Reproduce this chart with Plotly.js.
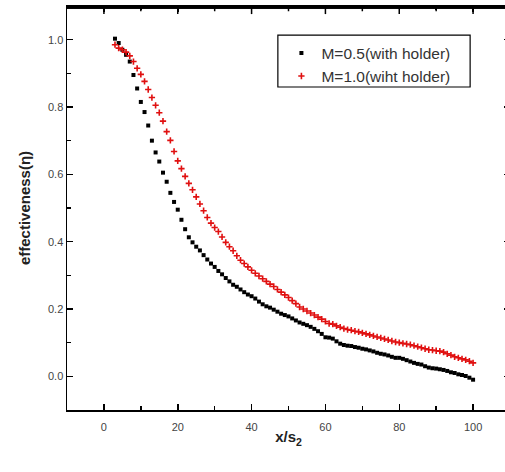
<!DOCTYPE html>
<html>
<head>
<meta charset="utf-8">
<script src="https://cdn.plot.ly/plotly-3.0.1.min.js"></script>
<style>
html,body{margin:0;padding:0;overflow:hidden;background:#fff;}
#chart{width:512px;height:472px;}
</style>
</head>
<body>
<div id="chart"></div>
<script>
var xPos = [3,4,5,6,7,8,9,10,11,12,13,14,15,16,17,18,19,20,21,22,23,24,25,26,27,28,29,30,
  31,32,33,34,35,36,37,38,39,40,41,42,43,44,45,46,47,48,49,50,51,52,53,54,55,56,57,58,59,60,
  61,62,63,64,65,66,67,68,69,70,71,72,73,74,75,76,77,78,79,80,81,82,83,84,85,86,87,88,89,90,
  91,92,93,94,95,96,97,98,99,100];

var effM05 = [1.003,0.990,0.970,0.955,0.935,0.895,0.855,0.815,0.785,0.745,0.700,0.665,0.638,0.605,
  0.578,0.545,0.518,0.495,0.465,0.437,0.413,0.398,0.385,0.374,0.360,0.347,0.335,0.325,
  0.313,0.303,0.292,0.282,0.272,0.266,0.258,0.250,0.243,0.238,0.231,0.222,0.214,0.208,
  0.204,0.198,0.192,0.186,0.182,0.178,0.172,0.166,0.160,0.156,0.152,0.147,0.141,0.134,
  0.126,0.116,0.115,0.112,0.104,0.097,0.093,0.091,0.090,0.087,0.085,0.082,0.080,0.077,
  0.074,0.070,0.067,0.065,0.062,0.058,0.055,0.055,0.052,0.048,0.044,0.040,0.037,0.035,
  0.030,0.026,0.024,0.023,0.021,0.019,0.016,0.012,0.010,0.006,0.004,0.001,-0.004,-0.010];

var effM10 = [0.985,0.975,0.970,0.963,0.952,0.935,0.915,0.897,0.876,0.852,0.828,0.805,0.783,0.758,
  0.727,0.701,0.668,0.640,0.617,0.594,0.573,0.554,0.533,0.512,0.492,0.472,0.455,0.442,
  0.430,0.414,0.398,0.385,0.373,0.358,0.345,0.335,0.325,0.315,0.306,0.298,0.290,0.282,
  0.274,0.267,0.258,0.250,0.242,0.234,0.225,0.216,0.206,0.200,0.194,0.188,0.182,0.176,
  0.170,0.163,0.157,0.155,0.150,0.146,0.142,0.139,0.137,0.134,0.132,0.129,0.126,0.123,
  0.120,0.117,0.114,0.111,0.108,0.105,0.102,0.100,0.098,0.096,0.094,0.091,0.088,0.085,
  0.082,0.079,0.078,0.076,0.075,0.072,0.067,0.063,0.058,0.055,0.052,0.049,0.045,0.040];

var seriesNames = ['M=0.5(with holder)', 'M=1.0(wiht holder)'];
var xTicks = [0,20,40,60,80,100];
var xMinor = [10,30,50,70,90];
var yTicks = [0,0.2,0.4,0.6,0.8,1.0];
var yMinor = [0.1,0.3,0.5,0.7,0.9];

var traces = [
  {x: xPos, y: effM05, name: seriesNames[0], type: 'scatter', mode: 'markers',
   marker: {symbol: 'square', size: 4, color: '#000000'}},
  {x: xPos, y: effM10, name: seriesNames[1], type: 'scatter', mode: 'markers',
   marker: {symbol: 'cross-thin', size: 4.5, color: '#e01010', line: {width: 1.6, color: '#e01010'}}}
];

var fam = 'Liberation Sans, Arial, sans-serif';
var tickFont = {family: fam, size: 11, color: '#444'};

var frameShapes = [
  {type: 'rect', xref: 'paper', yref: 'paper', x0: 0, x1: 1, y0: 0.994, y1: 1.0, layer: 'above',
   fillcolor: '#000', line: {color: '#000', width: 1}}
];
xTicks.forEach(function (v) {
  frameShapes.push({type: 'line', xref: 'x', yref: 'paper', x0: v, x1: v, y0: 0.996, y1: 0.980, layer: 'above', line: {color: '#000', width: 1.5}});
});
xMinor.forEach(function (v) {
  frameShapes.push({type: 'line', xref: 'x', yref: 'paper', x0: v, x1: v, y0: 0.996, y1: 0.987, layer: 'above', line: {color: '#000', width: 1.5}});
});

var layout = {
  width: 512, height: 472,
  margin: {l: 67, r: 2, t: 6, b: 62},
  paper_bgcolor: '#fff', plot_bgcolor: '#fff',
  showlegend: true,
  legend: {x: 0.484, y: 0.925, xanchor: 'left', yanchor: 'top',
    borderwidth: 0, bgcolor: 'rgba(0,0,0,0)',
    font: {family: fam, size: 15.5, color: '#333'}},
  shapes: [{type: 'rect', xref: 'paper', yref: 'paper', x0: 0.476, x1: 0.910, y0: 0.7995, y1: 0.928,
    line: {color: '#000', width: 1.2}, fillcolor: 'rgba(0,0,0,0)', layer: 'above'}].concat(frameShapes),
  xaxis: {range: [-10, 110], tickvals: xTicks, ticks: 'inside', ticklen: 6,
    tickwidth: 1.5, tickcolor: '#000', showline: true, linecolor: '#000', linewidth: 1.5,
    mirror: 'allticks', showgrid: false, zeroline: false, tickfont: tickFont, ticklabelstandoff: 6,
    minor: {tickvals: xMinor, ticks: 'inside', ticklen: 4, tickwidth: 1.5, tickcolor: '#000', showgrid: false},
    title: {text: '<b>x/s<sub>2</sub></b>', font: {family: fam, size: 15, color: '#222'}, standoff: 0}},
  yaxis: {range: [-0.1, 1.1], tickvals: yTicks, tickformat: '.1f', ticks: 'inside', ticklen: 6,
    tickwidth: 1.5, tickcolor: '#000', showline: true, linecolor: '#000', linewidth: 1.5,
    mirror: 'allticks', showgrid: false, zeroline: false, tickfont: tickFont,
    minor: {tickvals: yMinor, ticks: 'inside', ticklen: 4, tickwidth: 1.5, tickcolor: '#000', showgrid: false},
    title: {text: '<b>effectiveness(η)</b>', font: {family: fam, size: 15, color: '#222'}, standoff: 14}}
};

Plotly.newPlot('chart', traces, layout, {displayModeBar: false, staticPlot: true});
</script>
</body>
</html>
